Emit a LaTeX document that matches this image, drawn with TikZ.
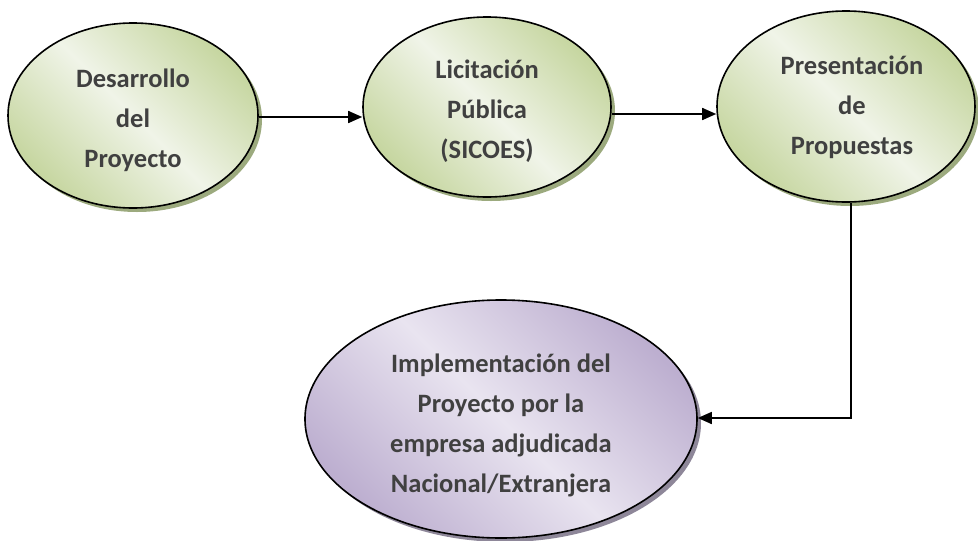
\documentclass[tikz,border=0pt]{standalone}
\usepackage{fontspec}
\setmainfont{Carlito}
\usetikzlibrary{shapes.geometric,arrows.meta,shadows}
\definecolor{glight}{HTML}{F0F4E8}
\definecolor{gdark}{HTML}{C6D6A0}
\definecolor{gshadow}{HTML}{9CAA7E}
\definecolor{plight}{HTML}{E9E4F0}
\definecolor{pdark}{HTML}{BDAFD0}
\definecolor{pshadow}{HTML}{8E8799}
\definecolor{txt}{HTML}{404040}
\tikzset{
  bubble/.style={ellipse, draw=black, line width=1.6pt, inner sep=0pt},
  greenb/.style={bubble, top color=gdark, bottom color=gdark, middle color=glight,
    shading angle=-45,
    drop shadow={shadow xshift=4pt, shadow yshift=-4pt, fill=gshadow, opacity=1}},
  purpleb/.style={bubble, top color=pdark, bottom color=pdark, middle color=plight,
    shading angle=-45,
    drop shadow={shadow xshift=4pt, shadow yshift=-4pt, fill=pshadow, opacity=1}},
  lbl/.style={align=center, inner sep=0pt, font=\fontsize{26.5}{40}\selectfont\bfseries, text=txt},
  arr/.style={line width=1.6pt, -{Triangle[length=14pt,width=12pt]}}
}
\begin{document}
\begin{tikzpicture}[x=1pt,y=-1pt]
\useasboundingbox (0,0) rectangle (978,541);
\node[greenb, minimum width=250pt, minimum height=185pt] (e1) at (133,115.5) {};
\node[lbl] (t1) at (133,120) {Desarrollo\\del\\Proyecto};
\node[greenb, minimum width=248pt, minimum height=180pt] (e2) at (487,107) {};
\node[lbl] (t2) at (487,111) {Licitación\\Pública\\(SICOES)};
\node[greenb, minimum width=258pt, minimum height=191pt] (e3) at (846,106.5) {};
\node[lbl] (t3) at (852,107) {Presentación\\de\\Propuestas};
\node[purpleb, minimum width=392pt, minimum height=238pt] (e4) at (501,419) {};
\node[lbl] (t4) at (501,425) {Implementación del\\Proyecto por la\\empresa adjudicada\\Nacional/Extranjera};
\coordinate (c) at (851,418);
\draw[arr] (e1.east |- 0,117) -- (e2.west |- 0,117);
\draw[arr] (e2.east |- 0,114) -- (e3.west |- 0,114);
\draw[arr] (e3.south -| c) -- (c) -- (e4.east |- c);
\end{tikzpicture}
\end{document}
